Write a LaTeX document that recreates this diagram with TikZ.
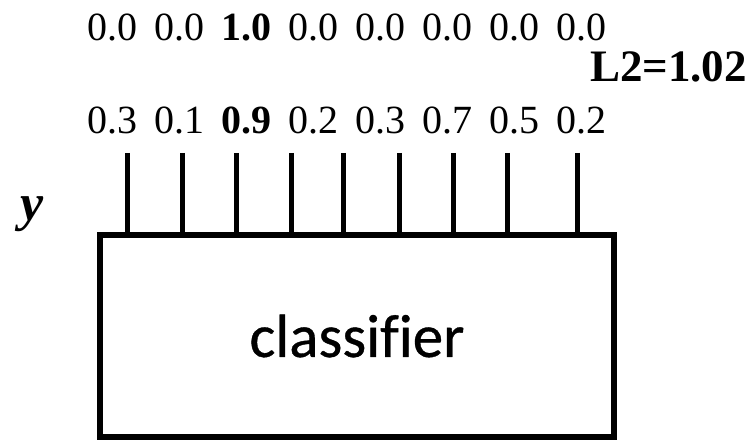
\documentclass[tikz,border=0pt]{standalone}
\usepackage{fontspec}
\setmainfont{Liberation Serif}
\newfontfamily\clsfont[Ligatures=NoCommon,FakeBold=0.6]{Carlito}
\usetikzlibrary{positioning}
\tikzset{
    clsBox/.style={
        draw,
        line width=6pt,
        minimum width=514pt,
        minimum height=202pt,
        inner sep=0pt,
        outer sep=0pt,
        font=\clsfont\fontsize{61}{63}\selectfont
    },
    clsStub/.style={
        line width=5pt
    },
    clsValue/.style={
        inner sep=0pt,
        font=\fontsize{40}{42}\selectfont
    },
    clsLoss/.style={
        inner sep=0pt,
        font=\fontsize{45}{47}\selectfont\bfseries
    }
}

\begin{document}
\begin{tikzpicture}[x=1pt,y=1pt]
        \useasboundingbox (0,0) rectangle (749,444);

        \node[clsBox] (clf) at (357,108) {classifier};

        % target and predicted scores
        \foreach \v [count=\i from 0] in {0.0,0.0,\textbf{1.0},0.0,0.0,0.0,0.0,0.0}
            \node[clsValue] (gt\i) at (112.5+67*\i,416.5) {\v};
        \foreach \v [count=\i from 0] in {0.3,0.1,\textbf{0.9},0.2,0.3,0.7,0.5,0.2}
            \node[clsValue] (pr\i) at (112.5+67*\i,324) {\v};

        \node[clsLoss] (loss) at (668.5,377) {L2=1.02};
        \node[anchor=base,inner sep=0pt,font=\fontsize{52}{54}\selectfont\bfseries\itshape] (yout) at (32,223) {y};

        % output stubs
        \foreach \x [count=\i] in {127,182,236,291,343,399,453,507,577} {
            \coordinate (stub\i) at (\x,291);
            \draw[clsStub] (stub\i) -- (stub\i |- clf.north);
        }
    \end{tikzpicture}
\end{document}
